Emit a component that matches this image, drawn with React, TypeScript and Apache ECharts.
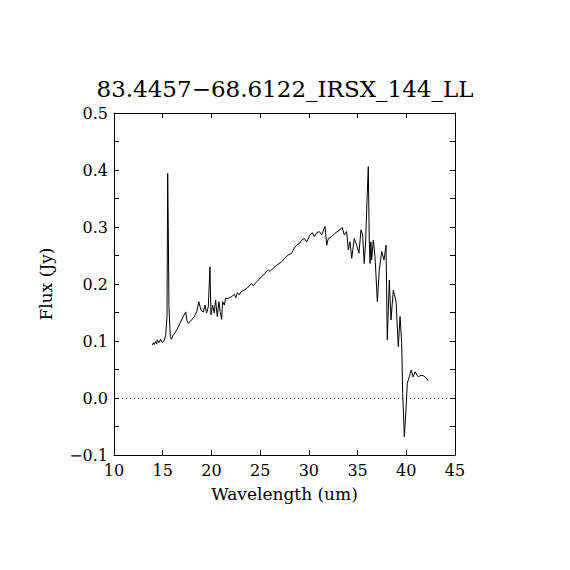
import React, { useEffect, useRef } from "react";
import * as echarts from "echarts";

const titleText = "83.4457\u221268.6122_IRSX_144_LL";
const xLabel = "Wavelength (um)";
const yLabel = "Flux (Jy)";

const wavelength = [
  13.93, 14.05, 14.13, 14.27, 14.38, 14.44, 14.6, 14.79, 14.96, 15.16, 15.3, 15.44, 15.51, 15.57, 15.64,
  15.78, 15.9, 16.05, 16.19, 16.43, 16.77, 17.11, 17.36, 17.5, 17.63, 17.97, 18.24, 18.5, 18.7, 18.93,
  19.17, 19.34, 19.5, 19.68, 19.85, 19.95, 20.12, 20.29, 20.43, 20.6, 20.77, 20.9, 21.05, 21.15, 21.32,
  21.46, 21.73, 22.08, 22.35, 22.5, 22.66, 22.84, 23.1, 23.62, 24.13, 24.3, 24.65, 25.16, 25.5, 25.84,
  26.0, 26.35, 26.7, 27.2, 27.62, 27.89, 28.24, 28.5, 28.75, 29.02, 29.27, 29.53, 29.78, 30.12, 30.35,
  30.56, 30.8, 31.07, 31.32, 31.66, 31.83, 32.0, 32.34, 32.68, 33.02, 33.43, 33.64, 33.88, 34.05, 34.22,
  34.4, 34.66, 34.91, 35.14, 35.35, 35.52, 35.68, 35.83, 35.97, 36.1, 36.2, 36.28, 36.37, 36.45, 36.62,
  36.79, 37.03, 37.23, 37.48, 37.71, 37.92, 38.05, 38.26, 38.43, 38.67, 38.95, 39.18, 39.36, 39.53, 39.63,
  39.8, 39.97, 40.1, 40.31, 40.5, 40.7, 40.9, 41.1, 41.25, 41.5, 41.75, 42.0, 42.27,
];

const flux = [
  0.093, 0.097, 0.094, 0.099, 0.095, 0.102, 0.097, 0.103, 0.097, 0.101, 0.110, 0.143, 0.394, 0.301, 0.160,
  0.108, 0.103, 0.110, 0.112, 0.119, 0.131, 0.143, 0.151, 0.135, 0.131, 0.137, 0.143, 0.152, 0.169, 0.154,
  0.151, 0.163, 0.149, 0.160, 0.230, 0.146, 0.163, 0.149, 0.172, 0.143, 0.169, 0.151, 0.138, 0.169, 0.163,
  0.175, 0.175, 0.178, 0.182, 0.176, 0.185, 0.181, 0.187, 0.192, 0.201, 0.197, 0.204, 0.213, 0.219, 0.225,
  0.222, 0.228, 0.233, 0.239, 0.247, 0.251, 0.254, 0.263, 0.268, 0.271, 0.277, 0.280, 0.274, 0.286, 0.290,
  0.283, 0.290, 0.292, 0.286, 0.301, 0.268, 0.280, 0.283, 0.289, 0.293, 0.299, 0.286, 0.292, 0.260, 0.274,
  0.245, 0.280, 0.268, 0.254, 0.295, 0.286, 0.236, 0.277, 0.347, 0.406, 0.277, 0.236, 0.274, 0.242, 0.277,
  0.248, 0.169, 0.225, 0.257, 0.242, 0.268, 0.102, 0.207, 0.137, 0.189, 0.169, 0.090, 0.143, 0.096, 0.008,
  -0.068, -0.021, 0.026, 0.037, 0.049, 0.037, 0.046, 0.040, 0.037, 0.040, 0.039, 0.036, 0.030,
];

const FONT = "DejaVu Serif";

export default function App() {
  const ref = useRef<HTMLDivElement>(null);
  useEffect(() => {
    if (!ref.current) return;
    const chart = echarts.init(ref.current, null, { renderer: "svg" });
    const data = wavelength.map((w, i) => [w, flux[i]]);
    const axisLine = { show: true, onZero: false, lineStyle: { color: "#000", width: 1 } };
    const tickIn = { show: true, inside: true, length: 5, lineStyle: { color: "#000", width: 1 } };
    const minorIn = { show: true, splitNumber: 2, length: 5, lineStyle: { color: "#000", width: 1 } };
    const labelStyle = { color: "#000", fontFamily: FONT, fontSize: 16 };
    const yFmt = (v: number) => v.toFixed(1).replace("-", "\u2212");
    chart.setOption({
      animation: false,
      backgroundColor: "#fff",
      title: {
        text: titleText,
        left: "center",
        top: 72,
        textStyle: { color: "#000", fontFamily: FONT, fontSize: 23, fontWeight: "normal" },
      },
      grid: { left: 114, top: 113, width: 341, height: 342, containLabel: false },
      xAxis: [
        {
          type: "value",
          min: 10,
          max: 45,
          interval: 5,
          position: "bottom",
          name: xLabel,
          nameLocation: "middle",
          nameGap: 30,
          nameTextStyle: { color: "#000", fontFamily: FONT, fontSize: 17 },
          axisLine,
          axisTick: tickIn,
          axisLabel: { ...labelStyle, margin: 7 },
          splitLine: { show: false },
        },
        {
          type: "value",
          min: 10,
          max: 45,
          interval: 5,
          position: "top",
          axisLine,
          axisTick: tickIn,
          axisLabel: { show: false },
          splitLine: { show: false },
        },
      ],
      yAxis: [
        {
          type: "value",
          min: -0.1,
          max: 0.5,
          interval: 0.1,
          position: "left",
          name: yLabel,
          nameLocation: "middle",
          nameGap: 60,
          nameTextStyle: { color: "#000", fontFamily: FONT, fontSize: 17 },
          axisLine,
          axisTick: tickIn,
          minorTick: minorIn,
          axisLabel: { ...labelStyle, margin: 6, formatter: yFmt },
          splitLine: { show: false },
          minorSplitLine: { show: false },
        },
        {
          type: "value",
          min: -0.1,
          max: 0.5,
          interval: 0.1,
          position: "right",
          axisLine,
          axisTick: tickIn,
          minorTick: minorIn,
          axisLabel: { show: false },
          splitLine: { show: false },
          minorSplitLine: { show: false },
        },
      ],
      series: [
        {
          type: "line",
          data,
          xAxisIndex: 0,
          yAxisIndex: 0,
          symbol: "none",
          lineStyle: { color: "#000", width: 1 },
          markLine: {
            silent: true,
            symbol: "none",
            label: { show: false },
            lineStyle: { color: "#000", type: [1, 3], width: 1 },
            data: [{ yAxis: 0 }],
          },
        },
      ],
    });
    return () => chart.dispose();
  }, []);
  return (
    <div
      ref={ref}
      style={{ position: "fixed", left: 0, top: 0, width: 570, height: 570, background: "#fff" }}
    />
  );
}
